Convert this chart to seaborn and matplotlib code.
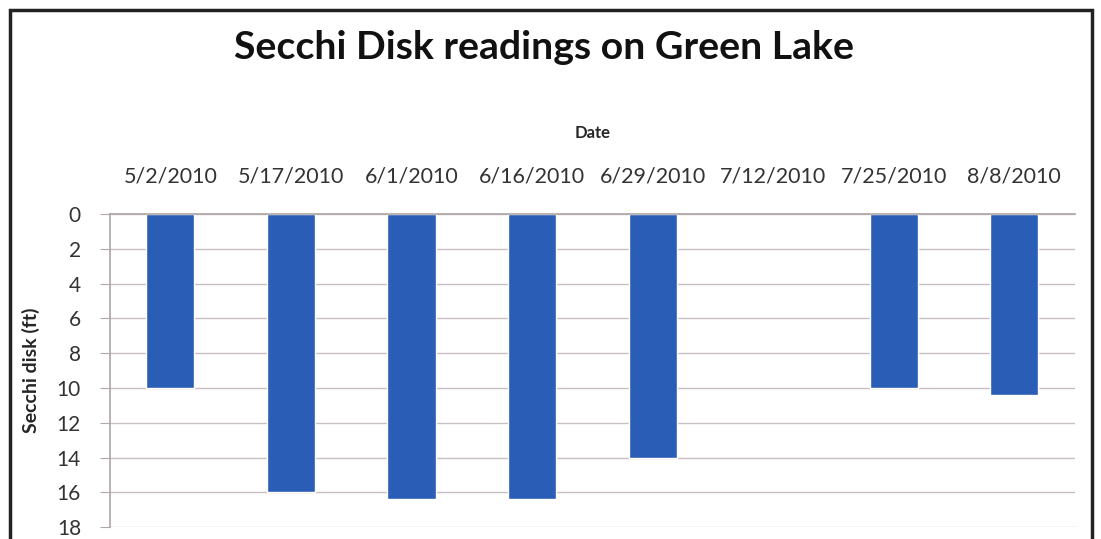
import matplotlib
matplotlib.use('Agg')
import matplotlib.pyplot as plt
import seaborn as sns
import numpy as np
import pandas as pd
from matplotlib.patches import Rectangle

# ── Data ─────────────────────────────────────────────────────
dates = ["5/2/2010", "5/17/2010", "6/1/2010", "6/16/2010",
         "6/29/2010", "7/12/2010", "7/25/2010", "8/8/2010"]
depth_ft = [10.0, 16.0, 16.4, 16.4, 14.0, np.nan, 10.0, 10.4]
y_ticks = list(range(0, 19, 2))

df = pd.DataFrame({"date": dates, "depth": depth_ft})

sns.set_theme(style="white")
plt.rcParams['font.family'] = ['Lato', 'DejaVu Sans']

fig = plt.figure(figsize=(11.01, 5.39), dpi=100)
ax = fig.add_axes([0.1, 0.022, 0.876, 0.581])

sns.barplot(data=df, x="date", y="depth", order=dates, color="#2a5db5",
            width=0.4, saturation=1, ax=ax)

ax.set_ylim(18, 0)
ax.set_yticks(y_ticks)
ax.set_yticklabels([str(t) for t in y_ticks], fontsize=15, color="#333333")
ax.yaxis.grid(True, color="#c8c0c0", linewidth=1)
ax.set_axisbelow(True)

ax.xaxis.set_ticks_position('top')
ax.xaxis.set_label_position('top')
ax.tick_params(axis='x', length=0, pad=20, labelsize=15.5, labelcolor="#333333")
ax.tick_params(axis='y', length=7, width=0.8, color="#b0a8a8", left=True,
               pad=14)
ax.set_xlabel("Date", fontsize=12, fontweight='bold', labelpad=20)
ax.set_ylabel("Secchi disk (ft)", fontsize=14, fontweight='bold', labelpad=12)

for side in ['right', 'bottom']:
    ax.spines[side].set_visible(False)
ax.spines['left'].set_color("#b0a8a8")
ax.spines['top'].set_color("#b0a8a8")

fig.suptitle("Secchi Disk readings on Green Lake", x=0.494, y=0.945,
             fontsize=28.3, fontweight='bold', color="#111111")

# outer frame (bottom edge cropped off)
fig.add_artist(Rectangle((10 / 1101, -0.05), 1082 / 1101, 1.05 - 10 / 539,
                         transform=fig.transFigure, fill=False,
                         edgecolor="#222222", linewidth=2.5))

fig.savefig("out.png", dpi=100)
